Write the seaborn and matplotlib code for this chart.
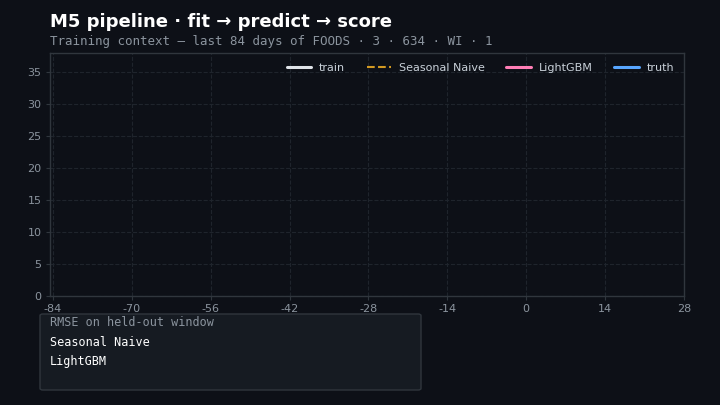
import numpy as np
import pandas as pd
import matplotlib
matplotlib.use('Agg')
import matplotlib.pyplot as plt
import seaborn as sns
from matplotlib.patches import FancyBboxPatch

# the reference chart shows axes, legend and score box but no drawn data
train_days = []
train_sales = []
naive_days = []
naive_pred = []
lgbm_days = []
lgbm_pred = []
truth_days = []
truth_sales = []

series_names = ['train', 'Seasonal Naive', 'LightGBM', 'truth']
x_ticks = [-84, -70, -56, -42, -28, -14, 0, 14, 28]
y_ticks = [0, 5, 10, 15, 20, 25, 30, 35]
score_labels = ['Seasonal Naive', 'LightGBM']

BG = '#0d1017'
PANEL = '#161b22'
EDGE = '#30363d'
MUTED = '#8b949e'

sns.set_theme(style='dark')
plt.rcParams['font.family'] = ['DejaVu Sans']
plt.rcParams['axes.unicode_minus'] = False

fig = plt.figure(figsize=(7.2, 4.05), dpi=100, facecolor=BG)
ax = fig.add_axes([50 / 720, 1 - 296 / 405, 634 / 720, 243 / 405])
ax.set_facecolor(BG)

styles = [
    (train_days, train_sales, '#dfe3e8', '-'),
    (naive_days, naive_pred, '#d29922', '--'),
    (lgbm_days, lgbm_pred, '#ff7eb6', '-'),
    (truth_days, truth_sales, '#58a6ff', '-'),
]
for (xs, ys, c, ls), name in zip(styles, series_names):
    df = pd.DataFrame({'day': xs, 'sales': ys})
    ax.plot(df['day'], df['sales'], color=c, linestyle=ls, lw=2.2 if ls == '-' else 1.5, label=name)

ax.set_xlim(-84.5, 28)
ax.set_ylim(0, 38)
ax.set_xticks(x_ticks)
ax.set_yticks(y_ticks)
ax.tick_params(colors=MUTED, labelsize=8, length=3, width=0.8, color=EDGE, pad=3, bottom=True, left=True)
ax.grid(True, color='#1f242c', linestyle='--', linewidth=0.8)
for sp in ax.spines.values():
    sp.set_color(EDGE)
    sp.set_linewidth(1)

leg = ax.legend(loc='upper right', ncol=4, frameon=False, fontsize=8, handlelength=2.2,
                handletextpad=0.7, columnspacing=1.95, borderaxespad=0.5)
for t in leg.get_texts():
    t.set_color('#c9d1d9')

fig.text(50 / 720, 1 - 22 / 405, 'M5 pipeline · fit → predict → score', color='white',
         fontsize=13, fontweight='bold', va='center', ha='left')
fig.text(50 / 720, 1 - 41 / 405, 'Training context — last 84 days of FOODS · 3 · 634 · WI · 1',
         color=MUTED, fontsize=9, family='DejaVu Sans Mono', va='center', ha='left')

box = FancyBboxPatch((40 / 720, 1 - 390 / 405), 381 / 720, 76 / 405,
                     boxstyle='round,pad=0,rounding_size=0.004', transform=fig.transFigure,
                     facecolor=PANEL, edgecolor=EDGE, linewidth=1)
fig.patches.append(box)
fig.text(50 / 720, 1 - 322 / 405, 'RMSE on held-out window', color=MUTED, fontsize=8.5,
         family='DejaVu Sans Mono', va='center', ha='left')
for i, lab in enumerate(score_labels):
    fig.text(50 / 720, 1 - (342 + 19 * i) / 405, lab, color='white', fontsize=8.5,
             family='DejaVu Sans Mono', va='center', ha='left')

fig.savefig('out.png', dpi=100, facecolor=BG)
